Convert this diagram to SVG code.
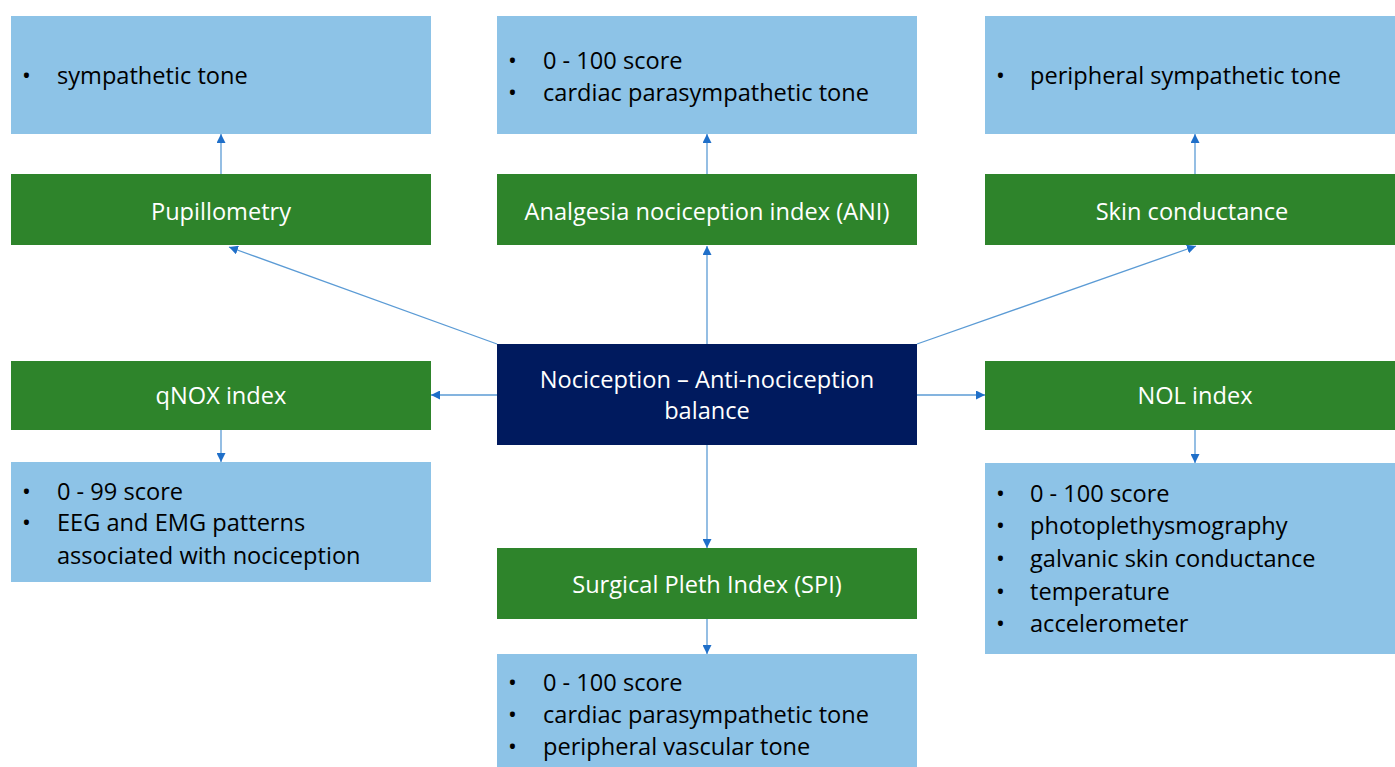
<svg xmlns="http://www.w3.org/2000/svg" width="1395" height="767" viewBox="0 0 1395 767">
<defs>
<marker id="ah" viewBox="0 0 10 10" refX="10" refY="5" markerWidth="9" markerHeight="9" markerUnits="userSpaceOnUse" orient="auto">
<path d="M0,0 L10,5 L0,10 z" fill="#1F6FC9"/>
</marker>
<style>
.lb{fill:#8DC3E7}
.gr{fill:#2E842B}
.nv{fill:#001A5E}
.t{font-family:"Open Sans","Liberation Sans",sans-serif;font-size:23.6px;fill:#000}
.w{font-family:"Open Sans","Liberation Sans",sans-serif;font-size:23.6px;fill:#fff;text-anchor:middle}
.c{stroke:#5B9BD5;stroke-width:1.3;fill:none;marker-end:url(#ah)}
</style>
</defs>
<rect width="1395" height="767" fill="#fff"/>
<g id="connectors">
<line class="c" x1="221" y1="174" x2="221" y2="134"/>
<line class="c" x1="707" y1="174" x2="707" y2="134"/>
<line class="c" x1="1195" y1="174" x2="1195" y2="134"/>
<line class="c" x1="497" y1="344" x2="229" y2="247"/>
<line class="c" x1="707" y1="344" x2="707" y2="246"/>
<line class="c" x1="917" y1="344" x2="1196" y2="246"/>
<line class="c" x1="497" y1="395" x2="431" y2="395"/>
<line class="c" x1="917" y1="395" x2="985" y2="395"/>
<line class="c" x1="707" y1="445" x2="707" y2="548"/>
<line class="c" x1="221" y1="430" x2="221" y2="462"/>
<line class="c" x1="1195" y1="430" x2="1195" y2="463"/>
<line class="c" x1="707" y1="619" x2="707" y2="654"/>
</g>
<g id="pupil-desc"><rect class="lb" x="11" y="16" width="420" height="118"/>
<text class="t" x="22" y="84">•</text><text class="t" x="57" y="84">sympathetic tone</text></g>
<g id="ani-desc"><rect class="lb" x="497" y="16" width="420" height="118"/>
<text class="t" x="508" y="69">•</text><text class="t" x="543" y="69">0 - 100 score</text>
<text class="t" x="508" y="101">•</text><text class="t" x="543" y="101">cardiac parasympathetic tone</text></g>
<g id="skin-desc"><rect class="lb" x="985" y="16" width="410" height="118"/>
<text class="t" x="996" y="84">•</text><text class="t" x="1030" y="84">peripheral sympathetic tone</text></g>
<g id="pupil"><rect class="gr" x="11" y="174" width="420" height="71"/><text class="w" x="221" y="220">Pupillometry</text></g>
<g id="ani"><rect class="gr" x="497" y="174" width="420" height="71"/><text class="w" x="707" y="220">Analgesia nociception index (ANI)</text></g>
<g id="skin"><rect class="gr" x="985" y="174" width="410" height="71"/><text class="w" x="1192" y="220">Skin conductance</text></g>
<g id="center"><rect class="nv" x="497" y="344" width="420" height="101"/>
<text class="w" x="707" y="388">Nociception – Anti-nociception</text><text class="w" x="707" y="419">balance</text></g>
<g id="qnox"><rect class="gr" x="11" y="361" width="420" height="69"/><text class="w" x="221" y="404">qNOX index</text></g>
<g id="nol"><rect class="gr" x="985" y="361" width="410" height="69"/><text class="w" x="1195" y="404">NOL index</text></g>
<g id="qnox-desc"><rect class="lb" x="11" y="462" width="420" height="120"/>
<text class="t" x="22" y="500">•</text><text class="t" x="57" y="500">0 - 99 score</text>
<text class="t" x="22" y="531">•</text><text class="t" x="57" y="531">EEG and EMG patterns</text>
<text class="t" x="57" y="564">associated with nociception</text></g>
<g id="nol-desc"><rect class="lb" x="985" y="463" width="410" height="191"/>
<text class="t" x="996" y="502">•</text><text class="t" x="1030" y="502">0 - 100 score</text>
<text class="t" x="996" y="534">•</text><text class="t" x="1030" y="534">photoplethysmography</text>
<text class="t" x="996" y="567">•</text><text class="t" x="1030" y="567">galvanic skin conductance</text>
<text class="t" x="996" y="600">•</text><text class="t" x="1030" y="600">temperature</text>
<text class="t" x="996" y="632">•</text><text class="t" x="1030" y="632">accelerometer</text></g>
<g id="spi"><rect class="gr" x="497" y="548" width="420" height="71"/><text class="w" x="707" y="593">Surgical Pleth Index (SPI)</text></g>
<g id="spi-desc"><rect class="lb" x="497" y="654" width="420" height="113"/>
<text class="t" x="508" y="691">•</text><text class="t" x="543" y="691">0 - 100 score</text>
<text class="t" x="508" y="723">•</text><text class="t" x="543" y="723">cardiac parasympathetic tone</text>
<text class="t" x="508" y="755">•</text><text class="t" x="543" y="755">peripheral vascular tone</text></g>
</svg>
